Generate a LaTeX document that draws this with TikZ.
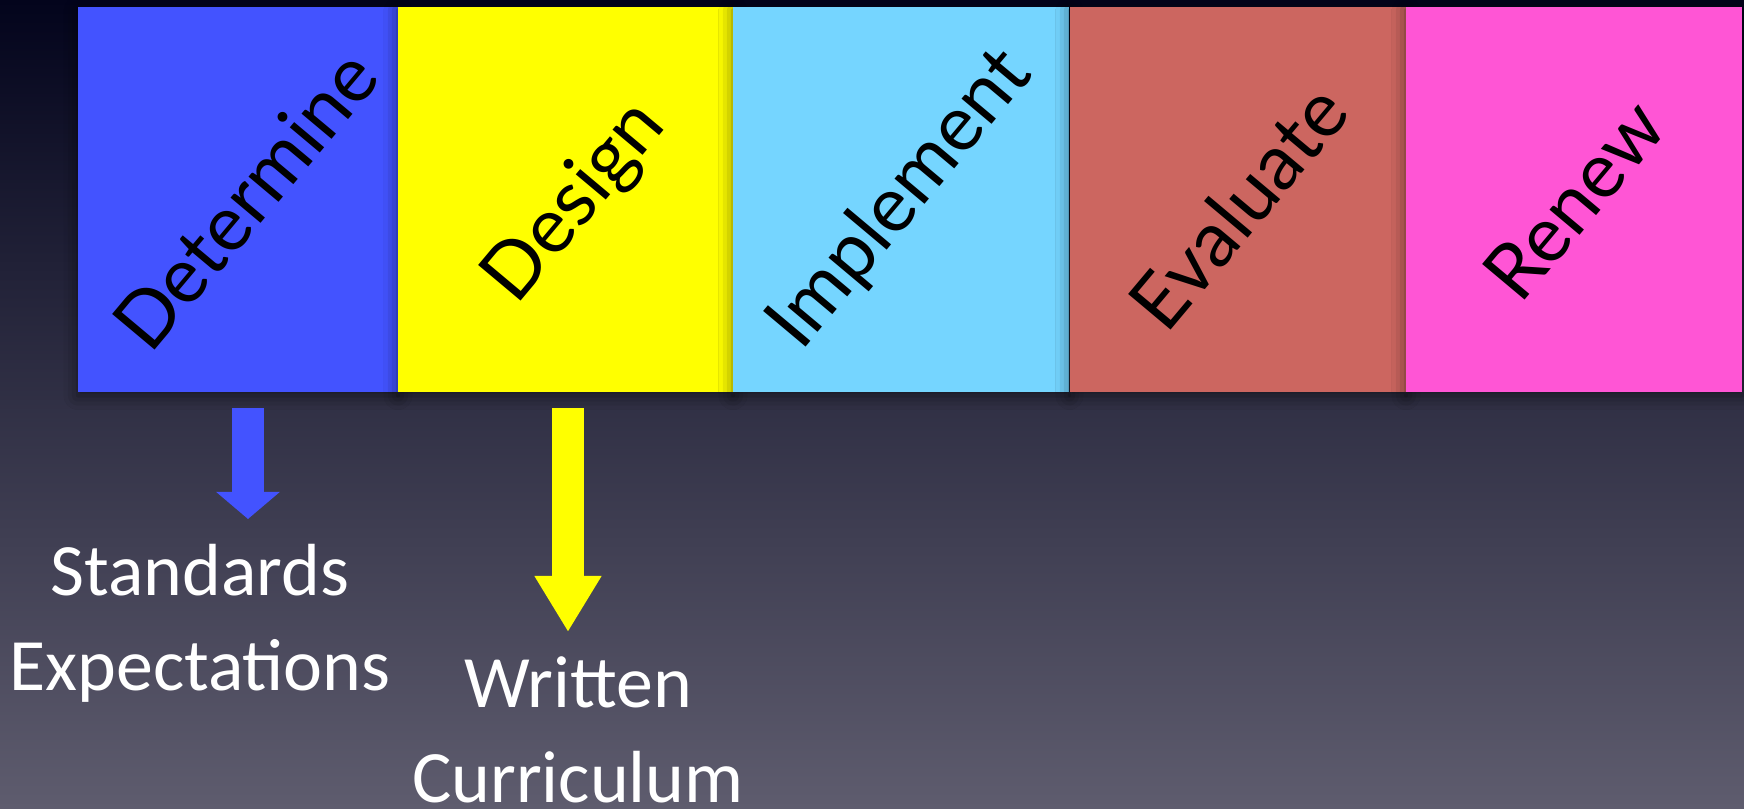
\documentclass[tikz,border=0pt]{standalone}
\usepackage{fontspec}
\setmainfont{Carlito}
\newfontfamily\stagefont{Lato}
\usetikzlibrary{arrows.meta,shadows.blur}

\definecolor{bgtop}{HTML}{03041C}
\definecolor{bgmid}{HTML}{35354B}
\definecolor{bgbot}{HTML}{5E5C6E}
\definecolor{detblue}{HTML}{4353FF}
\definecolor{desyellow}{HTML}{FFFF00}
\definecolor{impblue}{HTML}{75D5FF}
\definecolor{evared}{HTML}{CC6660}
\definecolor{renpink}{HTML}{FF55D5}

\begin{document}
\begin{tikzpicture}[x=0.01cm, y=-0.01cm,
    stage/.style={rectangle, minimum height=3.85cm, inner sep=0pt,
        blur shadow={shadow xshift=0pt, shadow yshift=-1pt, shadow blur radius=4pt, shadow opacity=55}},
    stagename/.style={rotate=50, inner sep=0pt, font=\stagefont\fontsize{22}{26}\selectfont},
    outcome/.style={align=center, text=white, inner sep=0pt, font=\fontsize{21}{27}\selectfont}]
    \useasboundingbox (0,0) rectangle (1744,808);
    \shade[top color=bgtop, middle color=bgmid, bottom color=bgbot] (0,0) rectangle (1744,808);

    % the five stages
    \node[stage, fill=detblue, minimum width=3.2cm] (det) at (238,199.5) {};
    \node[stage, fill=desyellow, minimum width=3.35cm] (des) at (565.5,199.5) {};
    \node[stage, fill=impblue, minimum width=3.36cm] (imp) at (901,199.5) {};
    \node[stage, fill=evared, minimum width=3.36cm] (eva) at (1238,199.5) {};
    \node[stage, fill=renpink, minimum width=3.36cm] (ren) at (1574,199.5) {};
    \node[stagename] at ([xshift=2pt]det) {Determine};
    \node[stagename] at ([xshift=3pt,yshift=-1pt]des) {Design};
    \node[stagename] at (imp) {Implement};
    \node[stagename] at ([yshift=-2pt]eva) {Evaluate};
    \node[stagename] at (ren) {Renew};

    % outcomes
    \coordinate (detA) at (248,408);
    \coordinate (detB) at (248,519);
    \coordinate (desA) at (568,408);
    \coordinate (desB) at (568,632);
    \draw[detblue, line width=0.32cm, -{Triangle[length=0.27cm, width=0.62cm]}] (detA) -- (detB);
    \draw[desyellow, line width=0.32cm, -{Triangle[length=0.56cm, width=0.63cm]}] (desA) -- (desB);
    \node[outcome, anchor=north] (std) at (200,544) {Standards\\Expectations};
    \node[outcome, anchor=north] (wrc) at (578,656) {Written\\Curriculum};
\end{tikzpicture}
\end{document}
